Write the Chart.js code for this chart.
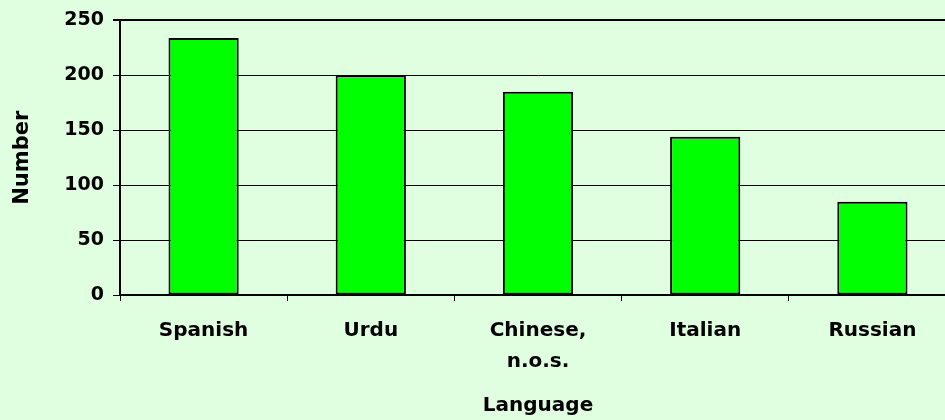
<!DOCTYPE html>
<html>
<head>
<meta charset="utf-8">
<title>Language chart</title>
<script src="https://cdn.jsdelivr.net/npm/chart.js@4.4.0/dist/chart.umd.min.js"></script>
<style>
	html, body { margin: 0; padding: 0; background: #e0ffe0; overflow: hidden; }
	#wrap { width: 945px; height: 420px; overflow: hidden; }
	#box { width: 956px; height: 420px; }
</style>
</head>
<body>
<div id="wrap"><div id="box"><canvas id="barcanvas"></canvas></div></div>
<script>
var languages = ["Spanish", "Urdu", ["Chinese,", "n.o.s."], "Italian", "Russian"];
var counts = [234, 200, 185, 144, 85];
var yTicks = [0, 50, 100, 150, 200, 250];

var FONT = "'DejaVu Sans', sans-serif";

var bgPlugin = {
	id: "bg",
	beforeDraw: function(chart) {
		var ctx = chart.ctx;
		ctx.save();
		ctx.fillStyle = "#e0ffe0";
		ctx.fillRect(0, 0, chart.width, chart.height);
		ctx.restore();
	}
};

var chartdata = {
	labels: languages,
	datasets: [
		{
			label: "Number",
			backgroundColor: "#00ff00",
			borderColor: "#000000",
			borderWidth: 2,
			borderSkipped: false,
			barPercentage: 0.42,
			categoryPercentage: 1,
			data: counts
		}
	]
};

var ctx = document.getElementById("barcanvas");

var BarGraph = new Chart(ctx, {
	type: "bar",
	data: chartdata,
	plugins: [bgPlugin],
	options: {
		responsive: true,
		maintainAspectRatio: false,
		animation: false,
		layout: { padding: { top: 20, left: 0, right: 0, bottom: 0 } },
		plugins: {
			legend: { display: false },
			tooltip: { enabled: false }
		},
		scales: {
			x: {
				offset: true,
				grid: { display: true, drawOnChartArea: false, drawTicks: true, tickLength: 6, color: "#000", lineWidth: 1 },
				border: { display: true, color: "#000", width: 2 },
				ticks: {
					color: "#000",
					padding: 14,
					maxRotation: 0,
					autoSkip: false,
					font: { family: FONT, size: 20, weight: "bold", lineHeight: 1.55 }
				},
				title: {
					display: true,
					text: "Language",
					color: "#000",
					padding: { top: 4, bottom: 2 },
					font: { family: FONT, size: 20, weight: "bold" }
				},
				afterFit: function(scale) { scale.height = 125; }
			},
			y: {
				min: 0,
				max: 250,
				afterBuildTicks: function(scale) {
					scale.ticks = yTicks.map(function(v) { return { value: v }; });
				},
				grid: {
					color: "#000",
					lineWidth: function(c) { return c.tick && c.tick.value === 250 ? 2 : 1; },
					tickLength: 7,
					drawTicks: true
				},
				border: { display: true, color: "#000", width: 2 },
				ticks: {
					color: "#000",
					padding: 9,
					font: { family: FONT, size: 19, weight: "bold" }
				},
				title: {
					display: true,
					text: "Number",
					color: "#000",
					padding: { top: 10, bottom: 4 },
					font: { family: FONT, size: 21, weight: "bold" }
				},
				afterFit: function(scale) { scale.width = 120; }
			}
		}
	}
});
</script>
</body>
</html>
